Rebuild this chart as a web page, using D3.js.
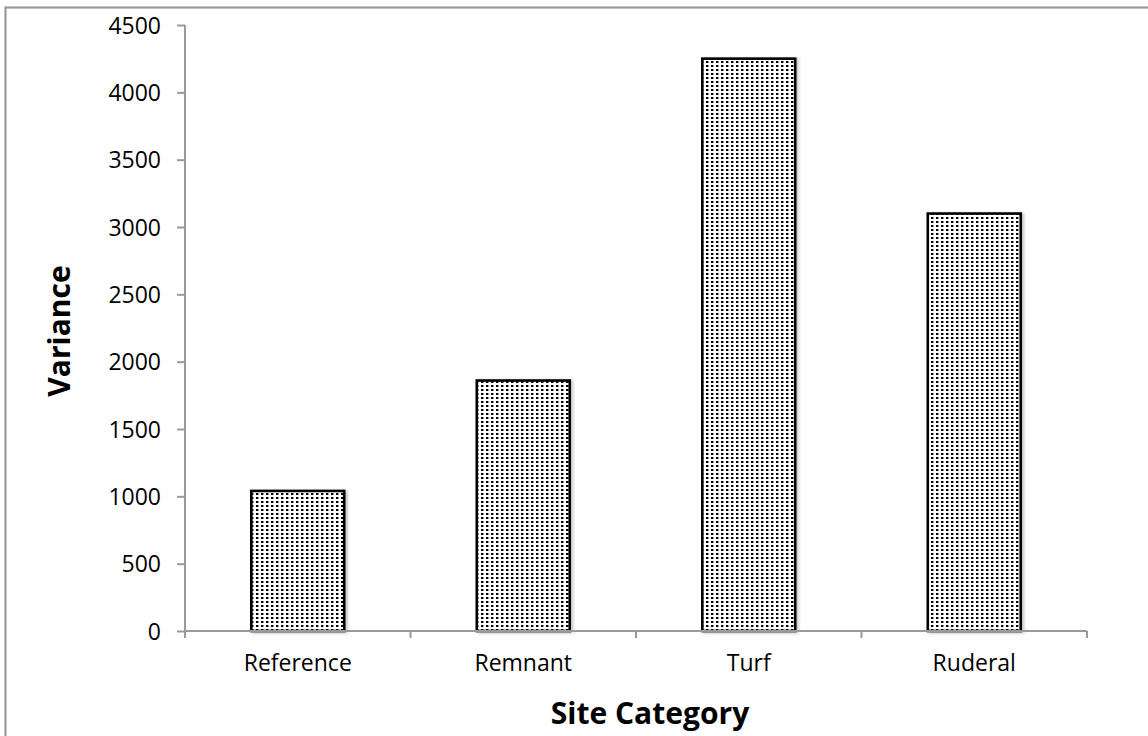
<!DOCTYPE html>
<html>
<head>
<meta charset="utf-8">
<script src="https://cdn.jsdelivr.net/npm/d3@7"></script>
<style>
  html, body { margin: 0; padding: 0; background: #ffffff; }
  svg { display: block; }
</style>
</head>
<body>
<script>
const categories = ["Reference", "Remnant", "Turf", "Ruderal"];
const variance = [1040, 1860, 4250, 3100];
const yTicks = [0, 500, 1000, 1500, 2000, 2500, 3000, 3500, 4000, 4500];
const xTitle = "Site Category";
const yTitle = "Variance";

const W = 1148, H = 736;
const plot = { left: 185, right: 1087, top: 25, bottom: 631 };
const axisColor = "#9a9a9a";
const font = "'Open Sans', 'Noto Sans', sans-serif";

const svg = d3.select("body").append("svg")
  .attr("width", W).attr("height", H);

const defs = svg.append("defs");
const pat = defs.append("pattern")
  .attr("id", "dots")
  .attr("patternUnits", "userSpaceOnUse")
  .attr("width", 5).attr("height", 4);
pat.append("rect").attr("width", 5).attr("height", 4).attr("fill", "#ffffff");
pat.append("rect").attr("x", 1).attr("y", 1).attr("width", 3).attr("height", 2).attr("fill", "#9a9a9a");
pat.append("rect").attr("x", 1).attr("y", 1).attr("width", 2).attr("height", 2).attr("fill", "#000000");

const shadow = defs.append("filter").attr("id", "shadow")
  .attr("x", "-10%").attr("y", "-10%").attr("width", "130%").attr("height", "130%");
shadow.append("feDropShadow").attr("dx", 2).attr("dy", 1).attr("stdDeviation", 1.5)
  .attr("flood-color", "#000").attr("flood-opacity", 0.25);

// outer chart border
svg.append("rect")
  .attr("x", 5.5).attr("y", 7.5)
  .attr("width", W + 20).attr("height", H + 20)
  .attr("fill", "none").attr("stroke", axisColor).attr("stroke-width", 2.2);

const x = d3.scaleBand()
  .domain(categories)
  .range([plot.left, plot.right])
  .paddingInner(0.588)
  .paddingOuter(0.294);

const y = d3.scaleLinear()
  .domain([0, 4500])
  .range([plot.bottom, plot.top]);

// bars
svg.append("g").selectAll("rect")
  .data(categories)
  .join("rect")
  .attr("x", d => x(d))
  .attr("y", (d, i) => y(variance[i]))
  .attr("width", x.bandwidth())
  .attr("height", (d, i) => y(0) - y(variance[i]))
  .attr("fill", "url(#dots)")
  .attr("stroke", "#000")
  .attr("stroke-width", 2.6)
  .attr("filter", "url(#shadow)");

// y axis
const yAxis = svg.append("g")
  .attr("transform", `translate(${plot.left},0)`)
  .call(d3.axisLeft(y).tickValues(yTicks).tickSize(8).tickSizeOuter(0).tickPadding(16).tickFormat(d3.format("d")));
yAxis.select(".domain").attr("stroke", axisColor).attr("stroke-width", 2)
  .attr("d", `M0,${plot.top}V${plot.bottom + 6}`);
yAxis.selectAll(".tick line").attr("stroke", axisColor).attr("stroke-width", 2);
yAxis.selectAll(".tick text")
  .attr("font-family", font).attr("font-size", 23).attr("fill", "#000")
  .attr("dy", "0.36em");

// x axis
const xBounds = categories.map(c => x(c) - x.step() * x.paddingInner() / 2);
xBounds.push(plot.right);
const xAxis = svg.append("g")
  .attr("transform", `translate(0,${plot.bottom})`)
  .call(d3.axisBottom(x).tickSize(0).tickPadding(24));
xAxis.select(".domain").attr("stroke", axisColor).attr("stroke-width", 2)
  .attr("d", `M${plot.left},0H${plot.right}`);
xAxis.selectAll(".tick text")
  .attr("font-family", font).attr("font-size", 23).attr("fill", "#000");
xAxis.append("g").selectAll("line")
  .data(xBounds)
  .join("line")
  .attr("x1", d => d).attr("x2", d => d)
  .attr("y1", 0).attr("y2", 7)
  .attr("stroke", axisColor).attr("stroke-width", 2);

// titles
svg.append("text")
  .attr("x", 650).attr("y", 724)
  .attr("text-anchor", "middle")
  .attr("font-family", font).attr("font-weight", "bold").attr("font-size", 30)
  .attr("fill", "#000")
  .text(xTitle);

svg.append("text")
  .attr("transform", `translate(70,${(plot.top + plot.bottom) / 2 + 3}) rotate(-90)`)
  .attr("text-anchor", "middle")
  .attr("font-family", font).attr("font-weight", "bold").attr("font-size", 30)
  .attr("fill", "#000")
  .text(yTitle);
</script>
</body>
</html>
